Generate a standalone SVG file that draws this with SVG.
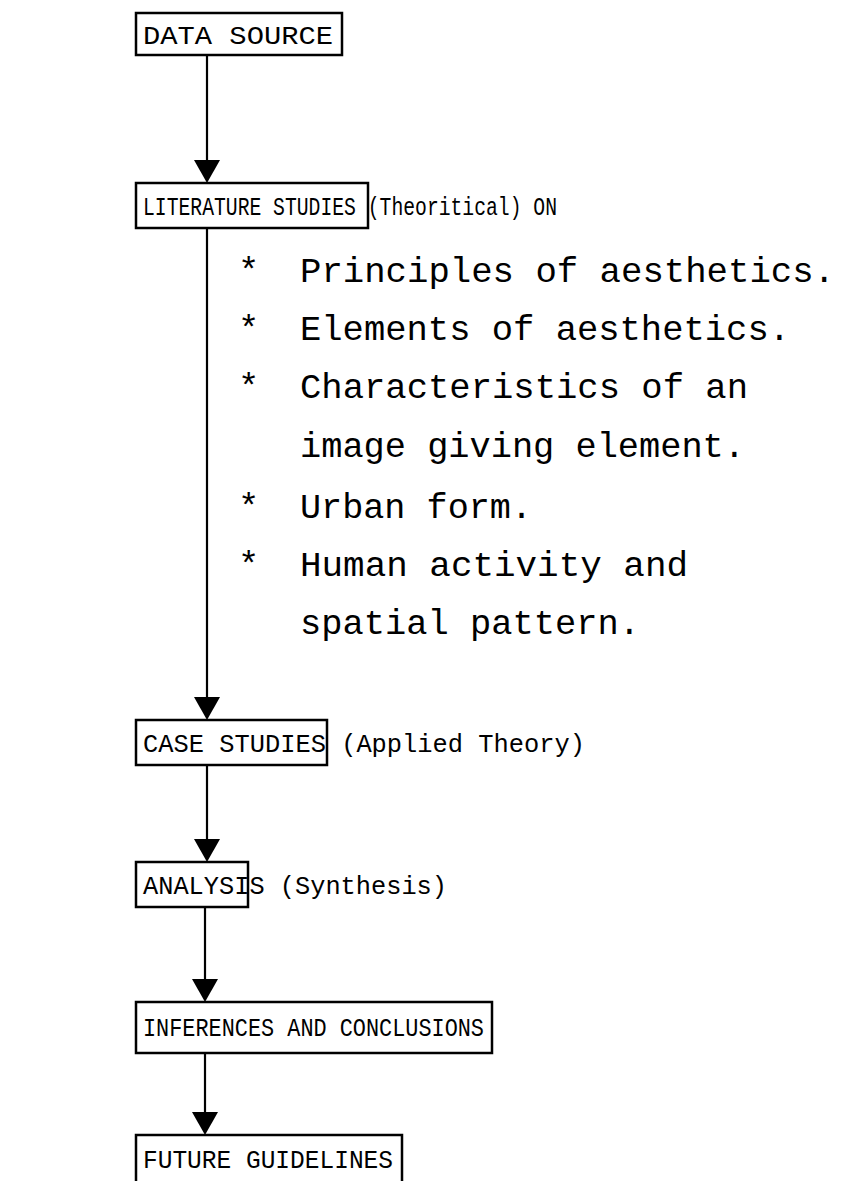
<svg xmlns="http://www.w3.org/2000/svg" width="845" height="1181" viewBox="0 0 845 1181">
<style>
.box{fill:none;stroke:#000;stroke-width:2.5}
.lbl{font-family:"Liberation Mono","Courier New",monospace;font-size:25px;fill:#000}
.bul{font-family:"Liberation Mono","Courier New",monospace;font-size:35.5px;fill:#000}
.conn{stroke:#000;stroke-width:2.2;fill:none}
.head{fill:#000}
</style>
<rect width="845" height="1181" fill="#fff"/>
<g id="connectors">
<line class="conn" x1="207" y1="55" x2="207" y2="160"/><path class="head" d="M194,160 L220,160 L207,183 Z"/>
<line class="conn" x1="207" y1="228" x2="207" y2="697"/><path class="head" d="M194,697 L220,697 L207,720 Z"/>
<line class="conn" x1="207" y1="765" x2="207" y2="839"/><path class="head" d="M194,839 L220,839 L207,862 Z"/>
<line class="conn" x1="205" y1="907" x2="205" y2="979"/><path class="head" d="M192,979 L218,979 L205,1002 Z"/>
<line class="conn" x1="205" y1="1053" x2="205" y2="1112"/><path class="head" d="M192,1112 L218,1112 L205,1135 Z"/>
</g>
<g id="data-source">
<rect class="box" x="136" y="13" width="206" height="42"/>
<text class="lbl" x="143" y="44" textLength="190" lengthAdjust="spacingAndGlyphs">DATA SOURCE</text>
</g>
<g id="literature-studies">
<rect class="box" x="136" y="183" width="232" height="45"/>
<text class="lbl" x="143" y="215" textLength="414" lengthAdjust="spacingAndGlyphs">LITERATURE STUDIES (Theoritical) ON</text>
<text class="bul" x="238" y="282">*</text><text class="bul" x="300" y="282" textLength="535" lengthAdjust="spacingAndGlyphs">Principles of aesthetics.</text>
<text class="bul" x="238" y="340">*</text><text class="bul" x="300" y="340" textLength="490" lengthAdjust="spacingAndGlyphs">Elements of aesthetics.</text>
<text class="bul" x="238" y="398">*</text><text class="bul" x="300" y="398" textLength="448" lengthAdjust="spacingAndGlyphs">Characteristics of an</text>
<text class="bul" x="300" y="457" textLength="445" lengthAdjust="spacingAndGlyphs">image giving element.</text>
<text class="bul" x="238" y="518">*</text><text class="bul" x="300" y="518" textLength="232" lengthAdjust="spacingAndGlyphs">Urban form.</text>
<text class="bul" x="238" y="576">*</text><text class="bul" x="300" y="576" textLength="388" lengthAdjust="spacingAndGlyphs">Human activity and</text>
<text class="bul" x="300" y="634" textLength="340" lengthAdjust="spacingAndGlyphs">spatial pattern.</text>
</g>
<g id="case-studies">
<rect class="box" x="136" y="720" width="191" height="45"/>
<text class="lbl" x="143" y="752" textLength="442" lengthAdjust="spacingAndGlyphs">CASE STUDIES (Applied Theory)</text>
</g>
<g id="analysis">
<rect class="box" x="136" y="862" width="112" height="45"/>
<text class="lbl" x="143" y="894" textLength="304" lengthAdjust="spacingAndGlyphs">ANALYSIS (Synthesis)</text>
</g>
<g id="inferences">
<rect class="box" x="136" y="1002" width="356" height="51"/>
<text class="lbl" x="143" y="1036" textLength="341" lengthAdjust="spacingAndGlyphs">INFERENCES AND CONCLUSIONS</text>
</g>
<g id="future-guidelines">
<path class="box" d="M136,1181 L136,1135 L402,1135 L402,1181"/>
<text class="lbl" x="143" y="1168" textLength="250" lengthAdjust="spacingAndGlyphs">FUTURE GUIDELINES</text>
</g>
</svg>
